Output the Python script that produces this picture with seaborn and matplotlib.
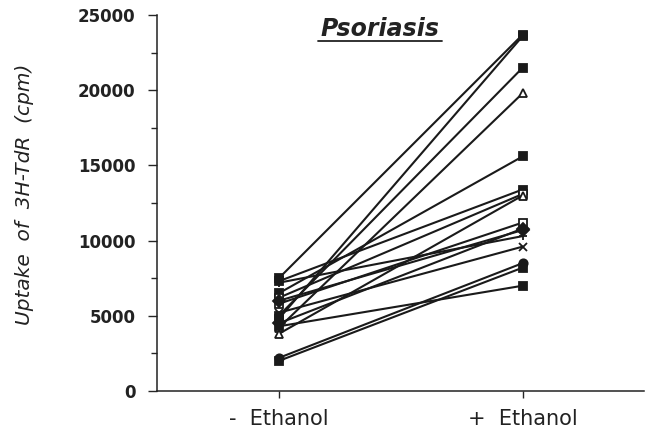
import numpy as np
import pandas as pd
import matplotlib
matplotlib.use('Agg')
import matplotlib.pyplot as plt
import seaborn as sns

# uptake of 3H-TdR (cpm), one pair per patient
conditions = ['-  Ethanol', '+  Ethanol']
without_ethanol = [7500, 4800, 5000, 4200, 6500, 7300, 6200, 5800, 4500, 7200, 5200, 3800, 2200, 2000, 4300, 6000]
with_ethanol = [23700, 23600, 21500, 19800, 15600, 13400, 13100, 11200, 10800, 10300, 9600, 13000, 8500, 8200, 7000, 10700]
markers = ['s', 's', 's', '^', 's', 's', 's', 's', 'D', '+', 'x', '^', 'o', 's', 's', 'D']
filled = [True, True, True, False, True, True, False, False, True, True, True, False, True, True, True, True]

sns.set_style('ticks')
plt.rcParams['font.family'] = ['DejaVu Sans']

fig = plt.figure(figsize=(6.5, 4.32), dpi=100)
ax = fig.add_axes([0.2415, 0.095, 0.75, 0.87])

xpos = np.arange(len(conditions))
for i in range(len(without_ethanol)):
    df = pd.DataFrame({'x': xpos, 'cpm': [without_ethanol[i], with_ethanol[i]]})
    sns.lineplot(data=df, x='x', y='cpm', ax=ax, color='#1a1a1a', linewidth=1.5,
                 marker=markers[i], markersize=6, markeredgewidth=1.3,
                 markerfacecolor='#1a1a1a' if filled[i] else 'white',
                 markeredgecolor='#1a1a1a', clip_on=False)

ax.set_xlim(-0.5, 1.5)
ax.set_ylim(0, 25000)
ax.set_xticks(xpos)
ax.set_xticklabels(conditions, fontsize=15)
ax.set_yticks(np.arange(0, 25001, 5000))
ax.set_yticks(np.arange(0, 25001, 2500), minor=True)
ax.tick_params(axis='y', labelsize=12, length=6.5, width=1, direction='out', pad=9)
ax.tick_params(axis='y', which='minor', length=4.5, width=1)
ax.tick_params(axis='x', length=5, width=1, pad=8)
for lab in ax.get_yticklabels():
    lab.set_fontweight('bold')
    lab.set_color('#222222')
for lab in ax.get_xticklabels():
    lab.set_color('#222222')
ax.set_xlabel('')
ax.set_ylabel('Uptake  of  3H-TdR  (cpm)', fontsize=14.5, style='italic', color='#222222')
ax.yaxis.set_label_coords(-0.252, 0.524)
sns.despine(ax=ax)
for s in ['left', 'bottom']:
    ax.spines[s].set_linewidth(1.1)
    ax.spines[s].set_color('#222222')

ax.text(0.457, 0.995, 'Psoriasis', transform=ax.transAxes, ha='center', va='top',
        fontsize=17, fontweight='bold', style='italic', color='#222222')
ax.plot([0.33, 0.584], [0.931, 0.931], transform=ax.transAxes, color='#222222',
        linewidth=1.3, clip_on=False)

fig.savefig('out.png', dpi=100)
